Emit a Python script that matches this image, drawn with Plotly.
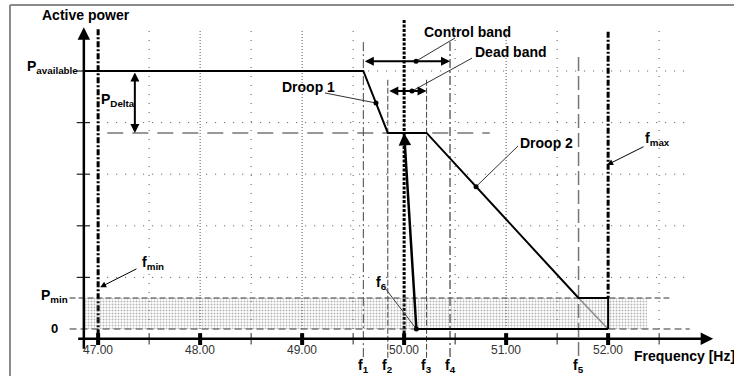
import plotly.graph_objects as go

# ---- frequency axis [Hz] ----
freq_ticks = [47.0, 48.0, 49.0, 50.0, 51.0, 52.0]
freq_tick_labels = ["47.00", "48.00", "49.00", "50.00", "51.00", "52.00"]
minor_ticks = [47.5, 48.5, 49.5, 50.5, 51.5, 52.5]
grid_freqs = [47.5, 48.0, 48.5, 49.0, 49.5, 50.5, 51.0, 51.5, 52.5]

# characteristic frequencies
f_min = 47.0
f_nom = 50.0
f_max = 52.0
f6 = 50.12
f_names = ["1", "2", "3", "4", "5"]
f_values = [49.60, 49.84, 50.22, 50.45, 51.71]
f1, f2, f3, f4, f5 = f_values

# ---- active power levels (relative units) ----
power_grid = [1, 2, 3, 4, 5]
p_available = 5.0
p_reduced = 3.8
p_min = 0.6

# axis frame of the sketch
y_axis_f = 46.86
x_axis_p = -0.19
x_range = [46.038, 53.234]
y_range = [-0.911, 6.376]

FONT = "Liberation Sans, Arial, sans-serif"
BLACK = "#000000"
GRID = "#555555"

fig = go.Figure()
shapes = []
ann = []


def seg(x0, y0, x1, y1, color=BLACK, width=1, dash="solid", xref="x", yref="y"):
    shapes.append(dict(type="line", x0=x0, y0=y0, x1=x1, y1=y1, xref=xref, yref=yref,
                       layer="below", line=dict(color=color, width=width, dash=dash)))


def label(x, y, text, size=14, xanchor="center", bold=True, color=BLACK):
    txt = f"<b>{text}</b>" if bold else text
    ann.append(dict(x=x, y=y, xref="x", yref="y", text=txt, showarrow=False,
                    xanchor=xanchor, yanchor="middle",
                    font=dict(family=FONT, size=size, color=color)))


def arrow(x_head, y_head, x_tail, y_tail, width=1, size=1.0, both=False, head=2):
    d = dict(x=x_head, y=y_head, ax=x_tail, ay=y_tail, xref="x", yref="y",
             axref="x", ayref="y", text="", showarrow=True, arrowhead=head,
             arrowsize=size, arrowwidth=width, arrowcolor=BLACK, standoff=0,
             startstandoff=0)
    if both:
        d["arrowside"] = "end+start"
        d["startarrowhead"] = head
        d["startarrowsize"] = size
    ann.append(d)


# ---- outer frame ----
seg(10 / 734, 1 - 5 / 376, 10 / 734, 0, color="#8a8a8a", width=2, xref="paper", yref="paper")
seg(10 / 734, 1 - 5 / 376, 1, 1 - 5 / 376, color="#8a8a8a", width=2, xref="paper", yref="paper")

# ---- dotted grid ----
for p in power_grid:
    seg(47.0, p, 52.8, p, color=GRID, width=1, dash="1px,8px")
for f in grid_freqs:
    dense = float(f).is_integer()
    seg(f, 0, f, 5.79, color=GRID, width=1, dash="1px,2px" if dense else "1px,8px")

# ---- reference levels ----
seg(46.72, p_min, 52.6, p_min, color="#333333", width=1, dash="6px,3px")
seg(46.72, 0, 52.8, 0, color="#333333", width=1, dash="7px,4px")
seg(47.09, p_reduced, 50.84, p_reduced, color="#777777", width=1.5, dash="16px,9px")

# ---- characteristic frequency markers ----
seg(f_min, 5.81, f_min, -0.30, width=3, dash="6px,2px,2px,2px")
seg(f_nom, 5.99, f_nom, -0.25, width=3, dash="3px,1.5px")
seg(f_max, 5.76, f_max, p_min, width=3, dash="6px,2px,2px,2px")
seg(f1, 5.56, f1, -0.60, color="#444444", width=1, dash="9px,3px,2px,3px")
seg(f2, 4.83, f2, -0.60, color="#444444", width=1, dash="6px,2px")
seg(f3, 4.83, f3, -0.60, color="#444444", width=1, dash="6px,2px")
seg(f4, 5.56, f4, -0.60, color="#666666", width=1.5, dash="9px,3px,2px,3px")
seg(f5, 5.27, f5, -0.60, color="#777777", width=1.5, dash="14px,5px")

# ---- axes ----
arrow(53.03, x_axis_p, 46.79, x_axis_p, width=2.5, size=1.0)
arrow(y_axis_f, 5.85, y_axis_f, -0.41, width=2.5, size=1.0)
for f in freq_ticks:
    seg(f, -0.08, f, -0.31, width=4)
for f in minor_ticks:
    seg(f, -0.08, f, -0.30, color="#222222", width=1)
for p in power_grid:
    seg(46.79, p, 46.92, p, color="#222222", width=1.2)
for f, t in zip(freq_ticks, freq_tick_labels):
    label(f, -0.41, t, size=12, bold=False, color="#333333")

# ---- stippled minimum-power band ----
fig.add_trace(go.Scatter(
    x=[y_axis_f, 52.38, 52.38, y_axis_f, y_axis_f],
    y=[0, 0, p_min, p_min, 0],
    mode="lines", fill="toself", line=dict(width=0),
    fillcolor="rgba(0,0,0,0)",
    fillpattern=dict(shape=".", fgcolor="#6e6e6e", bgcolor="rgba(255,255,255,0)",
                     size=3, solidity=0.35),
    hoverinfo="skip", showlegend=False))

# ---- active power characteristic ----
curve_f = [y_axis_f, f1, f2, f3, f5, f_max, f_max]
curve_p = [p_available, p_available, p_reduced, p_reduced, p_min, p_min, 0]
fig.add_trace(go.Scatter(x=[f5, f_max], y=[p_min, 0], mode="lines",
                         line=dict(color="#8a8a8a", width=1.5), showlegend=False))
fig.add_trace(go.Scatter(x=curve_f, y=curve_p, mode="lines",
                         line=dict(color=BLACK, width=2), showlegend=False))
fig.add_trace(go.Scatter(x=[f6, f_max], y=[0, 0], mode="lines",
                         line=dict(color=BLACK, width=2), showlegend=False))
# fast run-back to zero after f6
arrow(f_nom, p_reduced, f6, 0, width=2.5, size=1.0)

# ---- band arrows ----
band_ctrl_p, band_dead_p = 5.19, 4.61
arrow(f4, band_ctrl_p, f1, band_ctrl_p, width=2, size=0.9, both=True)
arrow(f3, band_dead_p, f2, band_dead_p, width=2, size=0.9, both=True)
arrow(47.36, p_reduced, 47.36, p_available, width=2, size=0.9, both=True)

# ---- leader lines with dots ----
droop1_f = 49.724
droop1_p = p_available - (p_available - p_reduced) * (droop1_f - f1) / (f2 - f1)
droop2_f = 50.705
droop2_p = p_reduced - (p_reduced - p_min) * (droop2_f - f3) / (f5 - f3)
ctrl_dot_f, dead_dot_f = 50.117, 50.077

seg(49.224, 4.574, droop1_f, droop1_p, color="#333333", width=1)
seg(50.499, 5.64, ctrl_dot_f, band_ctrl_p, color="#333333", width=1)
seg(50.666, 5.25, dead_dot_f, band_dead_p, color="#333333", width=1)
seg(51.117, 3.547, droop2_f, droop2_p, color="#333333", width=1)
seg(49.82, 0.775, f6, 0, color="#333333", width=1)
fig.add_trace(go.Scatter(
    x=[droop1_f, ctrl_dot_f, dead_dot_f, droop2_f, f6],
    y=[droop1_p, band_ctrl_p, band_dead_p, droop2_p, 0],
    mode="markers", marker=dict(color=BLACK, size=5), showlegend=False))

arrow(51.99, 3.18, 52.362, 3.547, width=1, size=1.2)
arrow(47.02, 0.81, 47.391, 1.18, width=1, size=1.2)

# ---- text ----
label(46.88, 6.085, "Active power")
label(46.82, 5.08, "P<sub>available</sub>", xanchor="right")
label(47.01, 4.44, "P<sub>Delta</sub>", xanchor="left")
label(46.72, 0.64, "P<sub>min</sub>", xanchor="right")
label(46.63, 0.0, "0", xanchor="right", size=13)
label(49.06, 4.69, "Droop 1")
label(50.175, 5.756, "Control band", xanchor="left")
label(50.675, 5.37, "Dead band", xanchor="left")
label(51.117, 3.60, "Droop 2", xanchor="left")
label(52.34, 3.68, "f<sub>max</sub>", xanchor="left")
label(47.41, 1.28, "f<sub>min</sub>", xanchor="left")
label(49.78, 0.89, "f<sub>6</sub>")
for n, f in zip(f_names, f_values):
    label(f, -0.72, f"f<sub>{n}</sub>")
label(52.233, -0.52, "Frequency [Hz]", xanchor="left")

fig.update_layout(
    width=734, height=376,
    margin=dict(l=0, r=0, t=0, b=0),
    paper_bgcolor="white", plot_bgcolor="white",
    xaxis=dict(range=x_range, visible=False, fixedrange=True),
    yaxis=dict(range=y_range, visible=False, fixedrange=True),
    shapes=shapes, annotations=ann, showlegend=False,
)

fig.write_html("out.html")
